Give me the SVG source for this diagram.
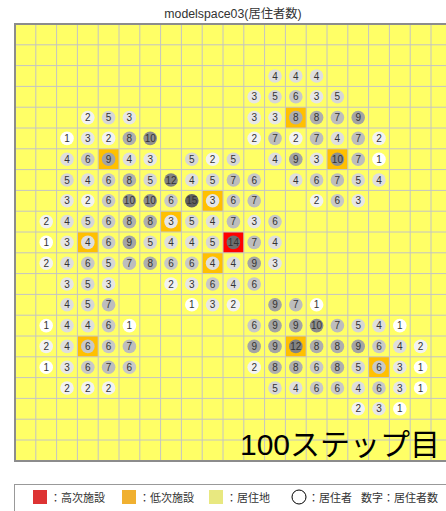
<svg xmlns="http://www.w3.org/2000/svg" width="446" height="511" viewBox="0 0 446 511">
<style>
.t{font-family:"Liberation Sans","Noto Sans CJK JP",sans-serif;fill:#333}
.n text{font-family:"Liberation Sans",sans-serif;font-size:10px;fill:#333;text-anchor:middle}
.g1{fill:#ffffff}.g2{fill:#f2f2f2}.g3{fill:#e6e6e6}.g4{fill:#dedede}.g5{fill:#d6d6d6}.g6{fill:#c8c8c8}.g7{fill:#bdbdbd}.g8{fill:#aeaeae}.g9{fill:#a4a4a4}.g10{fill:#8e8e8e}.g12{fill:#828282}.g14{fill:#6e6e6e}.g15{fill:#606060}
.lo{fill:#ffc000}.hi{fill:#ff0000}
</style>
<rect width="446" height="511" fill="#ffffff"/>
<text class="t" x="233" y="18" font-size="12.3" text-anchor="middle">modelspace03(居住者数)</text>
<g id="grid">
<rect x="15" y="24" width="437" height="437" fill="#ffff66"/>
<g id="facilities">
<rect class="lo" x="285.4" y="107.2" width="20.8" height="20.8"/>
<rect class="lo" x="98.2" y="148.8" width="20.8" height="20.8"/>
<rect class="lo" x="327" y="148.8" width="20.8" height="20.8"/>
<rect class="lo" x="202.2" y="190.4" width="20.8" height="20.8"/>
<rect class="lo" x="160.6" y="211.2" width="20.8" height="20.8"/>
<rect class="lo" x="77.4" y="232" width="20.8" height="20.8"/>
<rect class="lo" x="202.2" y="252.8" width="20.8" height="20.8"/>
<rect class="lo" x="77.4" y="336" width="20.8" height="20.8"/>
<rect class="lo" x="285.4" y="336" width="20.8" height="20.8"/>
<rect class="lo" x="368.6" y="356.8" width="20.8" height="20.8"/>
<rect class="hi" x="223" y="232" width="20.8" height="20.8"/>
</g>
<path fill="none" stroke="#c4c4c4" stroke-width="1" d="M35.8 24V461M56.6 24V461M77.4 24V461M98.2 24V461M119 24V461M139.8 24V461M160.6 24V461M181.4 24V461M202.2 24V461M223 24V461M243.8 24V461M264.6 24V461M285.4 24V461M306.2 24V461M327 24V461M347.8 24V461M368.6 24V461M389.4 24V461M410.2 24V461M431 24V461M15 44.8H452M15 65.6H452M15 86.4H452M15 107.2H452M15 128H452M15 148.8H452M15 169.6H452M15 190.4H452M15 211.2H452M15 232H452M15 252.8H452M15 273.6H452M15 294.4H452M15 315.2H452M15 336H452M15 356.8H452M15 377.6H452M15 398.4H452M15 419.2H452M15 440H452"/>
<path fill="none" stroke="#8c8c8c" stroke-width="2" d="M452 24H15V461H452"/>
</g>
<g class="n">
<g id="r2c12" transform="translate(275,76)"><circle r="6.8" class="g4"/><text y="3.6">4</text></g>
<g id="r2c13" transform="translate(295.8,76)"><circle r="6.8" class="g4"/><text y="3.6">4</text></g>
<g id="r2c14" transform="translate(316.6,76)"><circle r="6.8" class="g4"/><text y="3.6">4</text></g>
<g id="r3c11" transform="translate(254.2,96.8)"><circle r="6.8" class="g3"/><text y="3.6">3</text></g>
<g id="r3c12" transform="translate(275,96.8)"><circle r="6.8" class="g5"/><text y="3.6">5</text></g>
<g id="r3c13" transform="translate(295.8,96.8)"><circle r="6.8" class="g6"/><text y="3.6">6</text></g>
<g id="r3c14" transform="translate(316.6,96.8)"><circle r="6.8" class="g3"/><text y="3.6">3</text></g>
<g id="r3c15" transform="translate(337.4,96.8)"><circle r="6.8" class="g5"/><text y="3.6">5</text></g>
<g id="r4c3" transform="translate(87.8,117.6)"><circle r="6.8" class="g2"/><text y="3.6">2</text></g>
<g id="r4c4" transform="translate(108.6,117.6)"><circle r="6.8" class="g5"/><text y="3.6">5</text></g>
<g id="r4c5" transform="translate(129.4,117.6)"><circle r="6.8" class="g3"/><text y="3.6">3</text></g>
<g id="r4c11" transform="translate(254.2,117.6)"><circle r="6.8" class="g3"/><text y="3.6">3</text></g>
<g id="r4c12" transform="translate(275,117.6)"><circle r="6.8" class="g3"/><text y="3.6">3</text></g>
<g id="r4c13" transform="translate(295.8,117.6)"><circle r="6.8" class="g8"/><text y="3.6">8</text></g>
<g id="r4c14" transform="translate(316.6,117.6)"><circle r="6.8" class="g8"/><text y="3.6">8</text></g>
<g id="r4c15" transform="translate(337.4,117.6)"><circle r="6.8" class="g7"/><text y="3.6">7</text></g>
<g id="r4c16" transform="translate(358.2,117.6)"><circle r="6.8" class="g9"/><text y="3.6">9</text></g>
<g id="r5c2" transform="translate(67,138.4)"><circle r="6.8" class="g1"/><text y="3.6">1</text></g>
<g id="r5c3" transform="translate(87.8,138.4)"><circle r="6.8" class="g3"/><text y="3.6">3</text></g>
<g id="r5c4" transform="translate(108.6,138.4)"><circle r="6.8" class="g2"/><text y="3.6">2</text></g>
<g id="r5c5" transform="translate(129.4,138.4)"><circle r="6.8" class="g8"/><text y="3.6">8</text></g>
<g id="r5c6" transform="translate(150.2,138.4)"><circle r="6.8" class="g10"/><text y="3.6">10</text></g>
<g id="r5c11" transform="translate(254.2,138.4)"><circle r="6.8" class="g2"/><text y="3.6">2</text></g>
<g id="r5c12" transform="translate(275,138.4)"><circle r="6.8" class="g7"/><text y="3.6">7</text></g>
<g id="r5c13" transform="translate(295.8,138.4)"><circle r="6.8" class="g2"/><text y="3.6">2</text></g>
<g id="r5c14" transform="translate(316.6,138.4)"><circle r="6.8" class="g7"/><text y="3.6">7</text></g>
<g id="r5c15" transform="translate(337.4,138.4)"><circle r="6.8" class="g4"/><text y="3.6">4</text></g>
<g id="r5c16" transform="translate(358.2,138.4)"><circle r="6.8" class="g7"/><text y="3.6">7</text></g>
<g id="r5c17" transform="translate(379,138.4)"><circle r="6.8" class="g2"/><text y="3.6">2</text></g>
<g id="r6c2" transform="translate(67,159.2)"><circle r="6.8" class="g4"/><text y="3.6">4</text></g>
<g id="r6c3" transform="translate(87.8,159.2)"><circle r="6.8" class="g6"/><text y="3.6">6</text></g>
<g id="r6c4" transform="translate(108.6,159.2)"><circle r="6.8" class="g9"/><text y="3.6">9</text></g>
<g id="r6c5" transform="translate(129.4,159.2)"><circle r="6.8" class="g4"/><text y="3.6">4</text></g>
<g id="r6c6" transform="translate(150.2,159.2)"><circle r="6.8" class="g3"/><text y="3.6">3</text></g>
<g id="r6c8" transform="translate(191.8,159.2)"><circle r="6.8" class="g5"/><text y="3.6">5</text></g>
<g id="r6c9" transform="translate(212.6,159.2)"><circle r="6.8" class="g2"/><text y="3.6">2</text></g>
<g id="r6c10" transform="translate(233.4,159.2)"><circle r="6.8" class="g5"/><text y="3.6">5</text></g>
<g id="r6c12" transform="translate(275,159.2)"><circle r="6.8" class="g4"/><text y="3.6">4</text></g>
<g id="r6c13" transform="translate(295.8,159.2)"><circle r="6.8" class="g9"/><text y="3.6">9</text></g>
<g id="r6c14" transform="translate(316.6,159.2)"><circle r="6.8" class="g3"/><text y="3.6">3</text></g>
<g id="r6c15" transform="translate(337.4,159.2)"><circle r="6.8" class="g10"/><text y="3.6">10</text></g>
<g id="r6c16" transform="translate(358.2,159.2)"><circle r="6.8" class="g7"/><text y="3.6">7</text></g>
<g id="r6c17" transform="translate(379,159.2)"><circle r="6.8" class="g1"/><text y="3.6">1</text></g>
<g id="r7c2" transform="translate(67,180)"><circle r="6.8" class="g5"/><text y="3.6">5</text></g>
<g id="r7c3" transform="translate(87.8,180)"><circle r="6.8" class="g4"/><text y="3.6">4</text></g>
<g id="r7c4" transform="translate(108.6,180)"><circle r="6.8" class="g6"/><text y="3.6">6</text></g>
<g id="r7c5" transform="translate(129.4,180)"><circle r="6.8" class="g8"/><text y="3.6">8</text></g>
<g id="r7c6" transform="translate(150.2,180)"><circle r="6.8" class="g5"/><text y="3.6">5</text></g>
<g id="r7c7" transform="translate(171,180)"><circle r="6.8" class="g12"/><text y="3.6">12</text></g>
<g id="r7c8" transform="translate(191.8,180)"><circle r="6.8" class="g4"/><text y="3.6">4</text></g>
<g id="r7c9" transform="translate(212.6,180)"><circle r="6.8" class="g5"/><text y="3.6">5</text></g>
<g id="r7c10" transform="translate(233.4,180)"><circle r="6.8" class="g7"/><text y="3.6">7</text></g>
<g id="r7c11" transform="translate(254.2,180)"><circle r="6.8" class="g6"/><text y="3.6">6</text></g>
<g id="r7c13" transform="translate(295.8,180)"><circle r="6.8" class="g4"/><text y="3.6">4</text></g>
<g id="r7c14" transform="translate(316.6,180)"><circle r="6.8" class="g6"/><text y="3.6">6</text></g>
<g id="r7c15" transform="translate(337.4,180)"><circle r="6.8" class="g7"/><text y="3.6">7</text></g>
<g id="r7c16" transform="translate(358.2,180)"><circle r="6.8" class="g5"/><text y="3.6">5</text></g>
<g id="r7c17" transform="translate(379,180)"><circle r="6.8" class="g4"/><text y="3.6">4</text></g>
<g id="r8c2" transform="translate(67,200.8)"><circle r="6.8" class="g3"/><text y="3.6">3</text></g>
<g id="r8c3" transform="translate(87.8,200.8)"><circle r="6.8" class="g2"/><text y="3.6">2</text></g>
<g id="r8c4" transform="translate(108.6,200.8)"><circle r="6.8" class="g6"/><text y="3.6">6</text></g>
<g id="r8c5" transform="translate(129.4,200.8)"><circle r="6.8" class="g10"/><text y="3.6">10</text></g>
<g id="r8c6" transform="translate(150.2,200.8)"><circle r="6.8" class="g10"/><text y="3.6">10</text></g>
<g id="r8c7" transform="translate(171,200.8)"><circle r="6.8" class="g6"/><text y="3.6">6</text></g>
<g id="r8c8" transform="translate(191.8,200.8)"><circle r="6.8" class="g15"/><text y="3.6">15</text></g>
<g id="r8c9" transform="translate(212.6,200.8)"><circle r="6.8" class="g3"/><text y="3.6">3</text></g>
<g id="r8c10" transform="translate(233.4,200.8)"><circle r="6.8" class="g6"/><text y="3.6">6</text></g>
<g id="r8c11" transform="translate(254.2,200.8)"><circle r="6.8" class="g7"/><text y="3.6">7</text></g>
<g id="r8c14" transform="translate(316.6,200.8)"><circle r="6.8" class="g2"/><text y="3.6">2</text></g>
<g id="r8c15" transform="translate(337.4,200.8)"><circle r="6.8" class="g6"/><text y="3.6">6</text></g>
<g id="r8c16" transform="translate(358.2,200.8)"><circle r="6.8" class="g3"/><text y="3.6">3</text></g>
<g id="r9c1" transform="translate(46.2,221.6)"><circle r="6.8" class="g2"/><text y="3.6">2</text></g>
<g id="r9c2" transform="translate(67,221.6)"><circle r="6.8" class="g4"/><text y="3.6">4</text></g>
<g id="r9c3" transform="translate(87.8,221.6)"><circle r="6.8" class="g5"/><text y="3.6">5</text></g>
<g id="r9c4" transform="translate(108.6,221.6)"><circle r="6.8" class="g6"/><text y="3.6">6</text></g>
<g id="r9c5" transform="translate(129.4,221.6)"><circle r="6.8" class="g8"/><text y="3.6">8</text></g>
<g id="r9c6" transform="translate(150.2,221.6)"><circle r="6.8" class="g8"/><text y="3.6">8</text></g>
<g id="r9c7" transform="translate(171,221.6)"><circle r="6.8" class="g3"/><text y="3.6">3</text></g>
<g id="r9c8" transform="translate(191.8,221.6)"><circle r="6.8" class="g5"/><text y="3.6">5</text></g>
<g id="r9c9" transform="translate(212.6,221.6)"><circle r="6.8" class="g4"/><text y="3.6">4</text></g>
<g id="r9c10" transform="translate(233.4,221.6)"><circle r="6.8" class="g7"/><text y="3.6">7</text></g>
<g id="r9c11" transform="translate(254.2,221.6)"><circle r="6.8" class="g3"/><text y="3.6">3</text></g>
<g id="r9c12" transform="translate(275,221.6)"><circle r="6.8" class="g6"/><text y="3.6">6</text></g>
<g id="r10c1" transform="translate(46.2,242.4)"><circle r="6.8" class="g1"/><text y="3.6">1</text></g>
<g id="r10c2" transform="translate(67,242.4)"><circle r="6.8" class="g3"/><text y="3.6">3</text></g>
<g id="r10c3" transform="translate(87.8,242.4)"><circle r="6.8" class="g4"/><text y="3.6">4</text></g>
<g id="r10c4" transform="translate(108.6,242.4)"><circle r="6.8" class="g6"/><text y="3.6">6</text></g>
<g id="r10c5" transform="translate(129.4,242.4)"><circle r="6.8" class="g9"/><text y="3.6">9</text></g>
<g id="r10c6" transform="translate(150.2,242.4)"><circle r="6.8" class="g5"/><text y="3.6">5</text></g>
<g id="r10c7" transform="translate(171,242.4)"><circle r="6.8" class="g4"/><text y="3.6">4</text></g>
<g id="r10c8" transform="translate(191.8,242.4)"><circle r="6.8" class="g4"/><text y="3.6">4</text></g>
<g id="r10c9" transform="translate(212.6,242.4)"><circle r="6.8" class="g5"/><text y="3.6">5</text></g>
<g id="r10c10" transform="translate(233.4,242.4)"><circle r="6.8" class="g14"/><text y="3.6">14</text></g>
<g id="r10c11" transform="translate(254.2,242.4)"><circle r="6.8" class="g7"/><text y="3.6">7</text></g>
<g id="r10c12" transform="translate(275,242.4)"><circle r="6.8" class="g4"/><text y="3.6">4</text></g>
<g id="r11c1" transform="translate(46.2,263.2)"><circle r="6.8" class="g2"/><text y="3.6">2</text></g>
<g id="r11c2" transform="translate(67,263.2)"><circle r="6.8" class="g4"/><text y="3.6">4</text></g>
<g id="r11c3" transform="translate(87.8,263.2)"><circle r="6.8" class="g6"/><text y="3.6">6</text></g>
<g id="r11c4" transform="translate(108.6,263.2)"><circle r="6.8" class="g5"/><text y="3.6">5</text></g>
<g id="r11c5" transform="translate(129.4,263.2)"><circle r="6.8" class="g7"/><text y="3.6">7</text></g>
<g id="r11c6" transform="translate(150.2,263.2)"><circle r="6.8" class="g8"/><text y="3.6">8</text></g>
<g id="r11c7" transform="translate(171,263.2)"><circle r="6.8" class="g6"/><text y="3.6">6</text></g>
<g id="r11c8" transform="translate(191.8,263.2)"><circle r="6.8" class="g6"/><text y="3.6">6</text></g>
<g id="r11c9" transform="translate(212.6,263.2)"><circle r="6.8" class="g4"/><text y="3.6">4</text></g>
<g id="r11c10" transform="translate(233.4,263.2)"><circle r="6.8" class="g4"/><text y="3.6">4</text></g>
<g id="r11c11" transform="translate(254.2,263.2)"><circle r="6.8" class="g9"/><text y="3.6">9</text></g>
<g id="r11c12" transform="translate(275,263.2)"><circle r="6.8" class="g3"/><text y="3.6">3</text></g>
<g id="r12c2" transform="translate(67,284)"><circle r="6.8" class="g3"/><text y="3.6">3</text></g>
<g id="r12c3" transform="translate(87.8,284)"><circle r="6.8" class="g5"/><text y="3.6">5</text></g>
<g id="r12c4" transform="translate(108.6,284)"><circle r="6.8" class="g3"/><text y="3.6">3</text></g>
<g id="r12c7" transform="translate(171,284)"><circle r="6.8" class="g2"/><text y="3.6">2</text></g>
<g id="r12c8" transform="translate(191.8,284)"><circle r="6.8" class="g3"/><text y="3.6">3</text></g>
<g id="r12c9" transform="translate(212.6,284)"><circle r="6.8" class="g6"/><text y="3.6">6</text></g>
<g id="r12c10" transform="translate(233.4,284)"><circle r="6.8" class="g4"/><text y="3.6">4</text></g>
<g id="r12c11" transform="translate(254.2,284)"><circle r="6.8" class="g6"/><text y="3.6">6</text></g>
<g id="r13c2" transform="translate(67,304.8)"><circle r="6.8" class="g4"/><text y="3.6">4</text></g>
<g id="r13c3" transform="translate(87.8,304.8)"><circle r="6.8" class="g5"/><text y="3.6">5</text></g>
<g id="r13c4" transform="translate(108.6,304.8)"><circle r="6.8" class="g7"/><text y="3.6">7</text></g>
<g id="r13c8" transform="translate(191.8,304.8)"><circle r="6.8" class="g1"/><text y="3.6">1</text></g>
<g id="r13c9" transform="translate(212.6,304.8)"><circle r="6.8" class="g3"/><text y="3.6">3</text></g>
<g id="r13c10" transform="translate(233.4,304.8)"><circle r="6.8" class="g2"/><text y="3.6">2</text></g>
<g id="r13c12" transform="translate(275,304.8)"><circle r="6.8" class="g9"/><text y="3.6">9</text></g>
<g id="r13c13" transform="translate(295.8,304.8)"><circle r="6.8" class="g7"/><text y="3.6">7</text></g>
<g id="r13c14" transform="translate(316.6,304.8)"><circle r="6.8" class="g1"/><text y="3.6">1</text></g>
<g id="r14c1" transform="translate(46.2,325.6)"><circle r="6.8" class="g1"/><text y="3.6">1</text></g>
<g id="r14c2" transform="translate(67,325.6)"><circle r="6.8" class="g4"/><text y="3.6">4</text></g>
<g id="r14c3" transform="translate(87.8,325.6)"><circle r="6.8" class="g4"/><text y="3.6">4</text></g>
<g id="r14c4" transform="translate(108.6,325.6)"><circle r="6.8" class="g6"/><text y="3.6">6</text></g>
<g id="r14c5" transform="translate(129.4,325.6)"><circle r="6.8" class="g1"/><text y="3.6">1</text></g>
<g id="r14c11" transform="translate(254.2,325.6)"><circle r="6.8" class="g6"/><text y="3.6">6</text></g>
<g id="r14c12" transform="translate(275,325.6)"><circle r="6.8" class="g9"/><text y="3.6">9</text></g>
<g id="r14c13" transform="translate(295.8,325.6)"><circle r="6.8" class="g9"/><text y="3.6">9</text></g>
<g id="r14c14" transform="translate(316.6,325.6)"><circle r="6.8" class="g10"/><text y="3.6">10</text></g>
<g id="r14c15" transform="translate(337.4,325.6)"><circle r="6.8" class="g7"/><text y="3.6">7</text></g>
<g id="r14c16" transform="translate(358.2,325.6)"><circle r="6.8" class="g5"/><text y="3.6">5</text></g>
<g id="r14c17" transform="translate(379,325.6)"><circle r="6.8" class="g4"/><text y="3.6">4</text></g>
<g id="r14c18" transform="translate(399.8,325.6)"><circle r="6.8" class="g1"/><text y="3.6">1</text></g>
<g id="r15c1" transform="translate(46.2,346.4)"><circle r="6.8" class="g2"/><text y="3.6">2</text></g>
<g id="r15c2" transform="translate(67,346.4)"><circle r="6.8" class="g4"/><text y="3.6">4</text></g>
<g id="r15c3" transform="translate(87.8,346.4)"><circle r="6.8" class="g6"/><text y="3.6">6</text></g>
<g id="r15c4" transform="translate(108.6,346.4)"><circle r="6.8" class="g6"/><text y="3.6">6</text></g>
<g id="r15c5" transform="translate(129.4,346.4)"><circle r="6.8" class="g7"/><text y="3.6">7</text></g>
<g id="r15c11" transform="translate(254.2,346.4)"><circle r="6.8" class="g9"/><text y="3.6">9</text></g>
<g id="r15c12" transform="translate(275,346.4)"><circle r="6.8" class="g9"/><text y="3.6">9</text></g>
<g id="r15c13" transform="translate(295.8,346.4)"><circle r="6.8" class="g12"/><text y="3.6">12</text></g>
<g id="r15c14" transform="translate(316.6,346.4)"><circle r="6.8" class="g8"/><text y="3.6">8</text></g>
<g id="r15c15" transform="translate(337.4,346.4)"><circle r="6.8" class="g8"/><text y="3.6">8</text></g>
<g id="r15c16" transform="translate(358.2,346.4)"><circle r="6.8" class="g9"/><text y="3.6">9</text></g>
<g id="r15c17" transform="translate(379,346.4)"><circle r="6.8" class="g6"/><text y="3.6">6</text></g>
<g id="r15c18" transform="translate(399.8,346.4)"><circle r="6.8" class="g4"/><text y="3.6">4</text></g>
<g id="r15c19" transform="translate(420.6,346.4)"><circle r="6.8" class="g2"/><text y="3.6">2</text></g>
<g id="r16c1" transform="translate(46.2,367.2)"><circle r="6.8" class="g1"/><text y="3.6">1</text></g>
<g id="r16c2" transform="translate(67,367.2)"><circle r="6.8" class="g3"/><text y="3.6">3</text></g>
<g id="r16c3" transform="translate(87.8,367.2)"><circle r="6.8" class="g6"/><text y="3.6">6</text></g>
<g id="r16c4" transform="translate(108.6,367.2)"><circle r="6.8" class="g7"/><text y="3.6">7</text></g>
<g id="r16c5" transform="translate(129.4,367.2)"><circle r="6.8" class="g6"/><text y="3.6">6</text></g>
<g id="r16c11" transform="translate(254.2,367.2)"><circle r="6.8" class="g2"/><text y="3.6">2</text></g>
<g id="r16c12" transform="translate(275,367.2)"><circle r="6.8" class="g8"/><text y="3.6">8</text></g>
<g id="r16c13" transform="translate(295.8,367.2)"><circle r="6.8" class="g8"/><text y="3.6">8</text></g>
<g id="r16c14" transform="translate(316.6,367.2)"><circle r="6.8" class="g6"/><text y="3.6">6</text></g>
<g id="r16c15" transform="translate(337.4,367.2)"><circle r="6.8" class="g8"/><text y="3.6">8</text></g>
<g id="r16c16" transform="translate(358.2,367.2)"><circle r="6.8" class="g5"/><text y="3.6">5</text></g>
<g id="r16c17" transform="translate(379,367.2)"><circle r="6.8" class="g6"/><text y="3.6">6</text></g>
<g id="r16c18" transform="translate(399.8,367.2)"><circle r="6.8" class="g3"/><text y="3.6">3</text></g>
<g id="r16c19" transform="translate(420.6,367.2)"><circle r="6.8" class="g1"/><text y="3.6">1</text></g>
<g id="r17c2" transform="translate(67,388)"><circle r="6.8" class="g2"/><text y="3.6">2</text></g>
<g id="r17c3" transform="translate(87.8,388)"><circle r="6.8" class="g2"/><text y="3.6">2</text></g>
<g id="r17c4" transform="translate(108.6,388)"><circle r="6.8" class="g2"/><text y="3.6">2</text></g>
<g id="r17c12" transform="translate(275,388)"><circle r="6.8" class="g5"/><text y="3.6">5</text></g>
<g id="r17c13" transform="translate(295.8,388)"><circle r="6.8" class="g4"/><text y="3.6">4</text></g>
<g id="r17c14" transform="translate(316.6,388)"><circle r="6.8" class="g6"/><text y="3.6">6</text></g>
<g id="r17c15" transform="translate(337.4,388)"><circle r="6.8" class="g6"/><text y="3.6">6</text></g>
<g id="r17c16" transform="translate(358.2,388)"><circle r="6.8" class="g4"/><text y="3.6">4</text></g>
<g id="r17c17" transform="translate(379,388)"><circle r="6.8" class="g6"/><text y="3.6">6</text></g>
<g id="r17c18" transform="translate(399.8,388)"><circle r="6.8" class="g3"/><text y="3.6">3</text></g>
<g id="r17c19" transform="translate(420.6,388)"><circle r="6.8" class="g1"/><text y="3.6">1</text></g>
<g id="r18c16" transform="translate(358.2,408.8)"><circle r="6.8" class="g2"/><text y="3.6">2</text></g>
<g id="r18c17" transform="translate(379,408.8)"><circle r="6.8" class="g3"/><text y="3.6">3</text></g>
<g id="r18c18" transform="translate(399.8,408.8)"><circle r="6.8" class="g1"/><text y="3.6">1</text></g>
</g>
<text class="t" x="240" y="455" font-size="30" fill="#000" style="fill:#000">100ステップ目</text>
<g id="legend">
<rect x="14.5" y="484.5" width="440" height="30" fill="#ffffff" stroke="#999" stroke-width="1"/>
<rect x="33" y="490" width="14" height="14" fill="#dd3333"/>
<text class="t" x="50" y="502" font-size="11">：高次施設</text>
<rect x="122" y="490" width="14" height="14" fill="#f0b030"/>
<text class="t" x="139" y="502" font-size="11">：低次施設</text>
<rect x="209" y="490" width="14" height="14" fill="#e8e880"/>
<text class="t" x="226" y="502" font-size="11">：居住地</text>
<circle cx="299" cy="497" r="7" fill="#ffffff" stroke="#000" stroke-width="1"/>
<text class="t" x="308" y="502" font-size="11">：居住者</text>
<text class="t" x="361" y="502" font-size="11">数字：居住者数</text>
</g>
</svg>
